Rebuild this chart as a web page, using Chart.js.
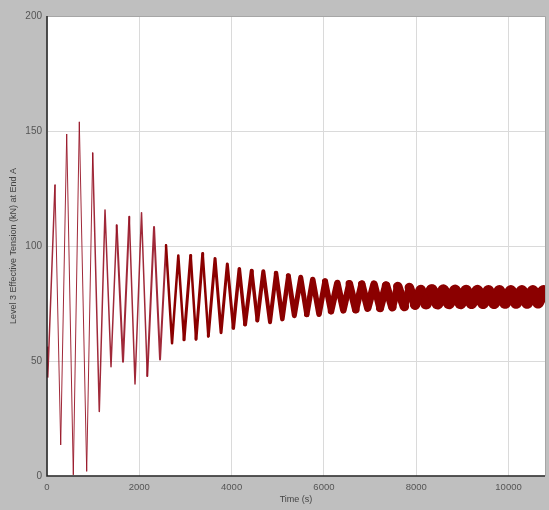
<!DOCTYPE html>
<html>
<head>
<meta charset="utf-8">
<script src="https://cdn.jsdelivr.net/npm/chart.js@4/dist/chart.umd.min.js"></script>
<style>
  html, body { margin: 0; padding: 0; background: #bfbfbf; }
  #wrap { width: 549px; height: 510px; }
</style>
</head>
<body>
<div id="wrap"><canvas id="c" width="549" height="510"></canvas></div>
<script>
// Effective tension history at End A of line 3: successive turning points (time in s, tension in kN)
const timeSec = [
  0, 17, 173, 297, 427, 570, 700, 860, 990, 1133, 1257, 1387, 1510, 1647, 1783, 1907,
  2048, 2173, 2319, 2449, 2579, 2709, 2845, 2969, 3114, 3229, 3374, 3495, 3641, 3771,
  3907, 4037, 4167, 4291, 4436, 4557, 4687, 4832, 4962, 5099, 5229, 5359, 5498, 5628,
  5758, 5894, 6024, 6154, 6291, 6421, 6551, 6690, 6820, 6950, 7086, 7216, 7346, 7483,
  7600, 7743, 7851, 7976, 8098, 8213, 8336, 8462, 8588, 8711, 8841, 8961, 9080, 9199,
  9325, 9448, 9563, 9686, 9801, 9925, 10048, 10163, 10287, 10402, 10525, 10640, 10755, 10790
];
const tensionKN = [
  56, 43, 126.5, 13.5, 148.7, 0.5, 154, 2, 140.4, 28, 115.7, 47.5, 109, 49.7, 112.7, 40,
  114.5, 43.5, 108.3, 50.7, 100.3, 57.7, 95.9, 59.2, 95.9, 59.5, 96.7, 60.8, 94.6, 62.3,
  92.2, 64.3, 90.1, 65.9, 89.2, 67.6, 89.0, 66.8, 88.3, 68.2, 87.1, 69.7, 86.4, 70.2,
  85.4, 70.3, 84.7, 71.6, 83.9, 72.0, 83.6, 72.3, 83.4, 73.0, 83.4, 73.0, 82.8, 73.4,
  82.4, 73.7, 82.0, 74.5, 80.9, 74.9, 80.8, 75.0, 80.7, 75.1, 80.6, 75.1, 80.5, 75.2,
  80.5, 75.2, 80.4, 75.2, 80.4, 75.3, 80.4, 75.3, 80.4, 75.3, 80.4, 75.4, 80.4, 78
];
const xTicks = [0, 2000, 4000, 6000, 8000, 10000];
const yTicks = [0, 50, 100, 150, 200];

const points = timeSec.map((t, i) => ({ x: t, y: tensionKN[i] }));

// Wave-frequency content thickens the trace where the slow swing is shallow
function traceWidth(ctx) {
  const dx = Math.abs(ctx.p1.x - ctx.p0.x);
  const dy = Math.abs(ctx.p1.y - ctx.p0.y);
  const len = Math.hypot(dx, dy) || 1;
  const w = Math.min(12, 0.6 + 28 * dx / len);
  return Math.round(w * 2) / 2;
}
function traceColor(ctx) {
  return traceWidth(ctx) < 2.5 ? 'rgba(150,18,36,0.9)' : '#8b0000';
}

const panel = {
  id: 'panel',
  beforeDraw(chart) {
    const { ctx, chartArea: a } = chart;
    ctx.save();
    ctx.fillStyle = '#bfbfbf';
    ctx.fillRect(0, 0, chart.width, chart.height);
    ctx.fillStyle = '#ffffff';
    ctx.fillRect(a.left, a.top, a.right - a.left, a.bottom - a.top);
    ctx.restore();
  },
  afterDraw(chart) {
    const { ctx, chartArea: a } = chart;
    ctx.save();
    ctx.strokeStyle = '#a6a6a6';
    ctx.lineWidth = 1;
    ctx.beginPath();
    ctx.moveTo(a.left, a.top + 0.5);
    ctx.lineTo(a.right + 0.5, a.top + 0.5);
    ctx.lineTo(a.right + 0.5, a.bottom);
    ctx.stroke();
    ctx.strokeStyle = '#202020';
    ctx.lineWidth = 1.5;
    ctx.beginPath();
    ctx.moveTo(a.left, a.top);
    ctx.lineTo(a.left, a.bottom);
    ctx.lineTo(a.right, a.bottom);
    ctx.stroke();
    ctx.restore();
  }
};

new Chart(document.getElementById('c'), {
  type: 'line',
  data: {
    datasets: [{
      data: points,
      borderColor: '#8b0000',
      borderWidth: 1.5,
      borderCapStyle: 'round',
      borderJoinStyle: 'round',
      pointRadius: 0,
      tension: 0,
      fill: false,
      segment: { borderWidth: traceWidth, borderColor: traceColor }
    }]
  },
  options: {
    responsive: false,
    animation: false,
    devicePixelRatio: 1,
    layout: { padding: { top: 16, right: 4, left: 0, bottom: 0 } },
    plugins: { legend: { display: false }, tooltip: { enabled: false } },
    scales: {
      x: {
        type: 'linear',
        min: 0,
        max: 10790,
        afterBuildTicks: s => { s.ticks = xTicks.map(v => ({ value: v })); },
        afterFit: s => { s.height = 34; },
        grid: { color: '#dadada', lineWidth: 1, drawTicks: false },
        border: { display: false },
        ticks: {
          padding: 6,
          color: '#555',
          font: { family: 'Liberation Sans', size: 9.5 },
          maxRotation: 0,
          callback: v => String(v)
        },
        title: {
          display: true,
          text: 'Time (s)',
          color: '#444',
          font: { family: 'Liberation Sans', size: 9 },
          padding: { top: 0, bottom: 5 }
        }
      },
      y: {
        min: 0,
        max: 200,
        afterBuildTicks: s => { s.ticks = yTicks.map(v => ({ value: v })); },
        afterFit: s => { s.width = 47; },
        grid: { color: '#dadada', lineWidth: 1, drawTicks: false },
        border: { display: false },
        ticks: {
          padding: 5,
          color: '#555',
          font: { family: 'Liberation Sans', size: 10 },
          callback: v => String(v)
        },
        title: {
          display: true,
          text: 'Level 3 Effective Tension (kN) at End A',
          color: '#444',
          font: { family: 'Liberation Sans', size: 9 },
          padding: { top: 8, bottom: 0 }
        }
      }
    }
  },
  plugins: [panel]
});
</script>
</body>
</html>
